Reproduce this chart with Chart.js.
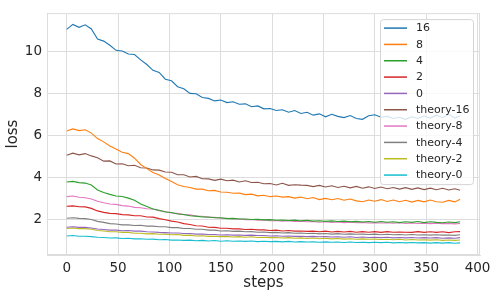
<!DOCTYPE html>
<html>
<head>
<meta charset="utf-8">
<script src="https://cdn.jsdelivr.net/npm/chart.js@4"></script>
<style>
  html, body { margin: 0; padding: 0; background: #fff; }
  #wrap { width: 498px; height: 299px; }
</style>
</head>
<body>
<div id="wrap"><canvas id="myChart" width="498" height="299"></canvas></div>
<script>
const steps = [0, 6, 12, 18, 24, 30, 36, 42, 48, 54, 60, 66, 72, 78, 84, 90, 96, 102, 108, 114,
  120, 126, 132, 138, 144, 150, 156, 162, 168, 174, 180, 186, 192, 198, 204, 210, 216, 222, 228, 234,
  240, 246, 252, 258, 264, 270, 276, 282, 288, 294, 300, 306, 312, 318, 324, 330, 336, 342, 348, 354,
  360, 366, 372, 378, 383];

const loss16 = [11.08, 11.32, 11.18, 11.30, 11.10, 10.62, 10.52, 10.32, 10.08, 10.05, 9.90, 9.88, 9.62, 9.40, 9.12, 9.02, 8.70, 8.62, 8.34, 8.24,
  8.02, 8.00, 7.82, 7.78, 7.66, 7.70, 7.58, 7.62, 7.50, 7.52, 7.38, 7.42, 7.28, 7.30, 7.20, 7.24, 7.12, 7.20, 7.06, 7.12,
  6.98, 7.04, 6.90, 7.02, 6.92, 6.86, 6.96, 6.82, 6.78, 6.95, 7.00, 6.88, 6.92, 6.82, 6.88, 6.78, 6.90, 6.82, 6.94, 6.84,
  6.98, 6.86, 7.02, 6.84, 6.95];
const loss8 = [6.22, 6.32, 6.24, 6.28, 6.12, 5.86, 5.70, 5.50, 5.36, 5.20, 5.14, 4.92, 4.62, 4.42, 4.24, 4.12, 3.95, 3.80, 3.65, 3.57,
  3.52, 3.44, 3.44, 3.36, 3.38, 3.30, 3.29, 3.24, 3.25, 3.18, 3.20, 3.12, 3.15, 3.08, 3.11, 3.06, 3.08, 3.01, 3.06, 2.98,
  3.04, 2.94, 3.00, 2.93, 2.99, 2.91, 2.97, 2.88, 2.84, 2.92, 2.86, 2.94, 2.85, 2.92, 2.84, 2.91, 2.82, 2.90, 2.83, 2.92,
  2.84, 2.81, 2.90, 2.83, 2.96];
const loss4 = [3.78, 3.81, 3.75, 3.73, 3.64, 3.40, 3.28, 3.19, 3.11, 3.09, 3.01, 2.91, 2.73, 2.61, 2.49, 2.43, 2.35, 2.32, 2.25, 2.23,
  2.17, 2.15, 2.11, 2.11, 2.07, 2.07, 2.03, 2.04, 2.01, 2.01, 1.99, 2.00, 1.97, 1.98, 1.95, 1.96, 1.94, 1.96, 1.92, 1.95,
  1.91, 1.93, 1.90, 1.92, 1.89, 1.91, 1.88, 1.90, 1.87, 1.89, 1.86, 1.89, 1.86, 1.88, 1.84, 1.88, 1.85, 1.89, 1.84, 1.88,
  1.85, 1.83, 1.87, 1.84, 1.88];
const loss2 = [2.62, 2.64, 2.60, 2.59, 2.52, 2.40, 2.33, 2.28, 2.27, 2.22, 2.21, 2.17, 2.17, 2.11, 2.10, 2.03, 1.98, 1.91, 1.87, 1.79,
  1.75, 1.69, 1.68, 1.62, 1.61, 1.57, 1.57, 1.54, 1.54, 1.51, 1.52, 1.49, 1.49, 1.46, 1.48, 1.44, 1.46, 1.43, 1.44, 1.42,
  1.43, 1.40, 1.43, 1.39, 1.42, 1.39, 1.42, 1.38, 1.41, 1.38, 1.41, 1.37, 1.41, 1.38, 1.39, 1.38, 1.37, 1.41, 1.37, 1.40,
  1.37, 1.40, 1.36, 1.40, 1.41];
const loss0 = [1.62, 1.64, 1.61, 1.61, 1.58, 1.53, 1.51, 1.48, 1.48, 1.45, 1.46, 1.43, 1.43, 1.40, 1.39, 1.37, 1.36, 1.34, 1.34, 1.32,
  1.32, 1.29, 1.29, 1.27, 1.27, 1.25, 1.26, 1.24, 1.25, 1.23, 1.24, 1.22, 1.22, 1.20, 1.21, 1.19, 1.20, 1.18, 1.19, 1.17,
  1.18, 1.16, 1.17, 1.15, 1.16, 1.14, 1.16, 1.13, 1.15, 1.13, 1.14, 1.12, 1.14, 1.11, 1.13, 1.11, 1.13, 1.10, 1.12, 1.10,
  1.12, 1.09, 1.11, 1.09, 1.12];
const theory16 = [5.06, 5.16, 5.08, 5.14, 5.03, 4.94, 4.78, 4.79, 4.64, 4.65, 4.56, 4.58, 4.46, 4.45, 4.36, 4.35, 4.26, 4.25, 4.13, 4.13,
  4.02, 4.05, 3.94, 3.93, 3.86, 3.92, 3.84, 3.87, 3.78, 3.84, 3.76, 3.77, 3.70, 3.71, 3.64, 3.72, 3.62, 3.65, 3.63, 3.62,
  3.56, 3.62, 3.54, 3.60, 3.52, 3.58, 3.50, 3.57, 3.48, 3.55, 3.47, 3.54, 3.46, 3.52, 3.44, 3.51, 3.43, 3.50, 3.42, 3.49,
  3.41, 3.48, 3.40, 3.46, 3.39];
const theory8 = [3.08, 3.11, 3.05, 3.03, 2.97, 2.86, 2.79, 2.73, 2.71, 2.65, 2.63, 2.57, 2.55, 2.50, 2.49, 2.41, 2.37, 2.30, 2.28, 2.22,
  2.21, 2.15, 2.14, 2.09, 2.09, 2.05, 2.05, 2.01, 2.01, 1.98, 1.99, 1.95, 1.97, 1.93, 1.94, 1.91, 1.93, 1.89, 1.91, 1.88,
  1.89, 1.86, 1.88, 1.85, 1.87, 1.84, 1.86, 1.83, 1.85, 1.82, 1.84, 1.82, 1.83, 1.81, 1.83, 1.80, 1.82, 1.80, 1.81, 1.79,
  1.81, 1.79, 1.80, 1.78, 1.80];
const theory4 = [2.05, 2.07, 2.04, 2.03, 1.99, 1.90, 1.85, 1.79, 1.77, 1.73, 1.73, 1.70, 1.71, 1.67, 1.67, 1.64, 1.64, 1.60, 1.60, 1.56,
  1.56, 1.52, 1.52, 1.48, 1.48, 1.44, 1.45, 1.42, 1.43, 1.40, 1.41, 1.38, 1.39, 1.36, 1.37, 1.34, 1.36, 1.33, 1.34, 1.32,
  1.33, 1.30, 1.32, 1.29, 1.31, 1.28, 1.30, 1.28, 1.29, 1.27, 1.29, 1.26, 1.28, 1.26, 1.27, 1.25, 1.27, 1.25, 1.26, 1.24,
  1.26, 1.24, 1.25, 1.23, 1.26];
const theory2 = [1.56, 1.58, 1.55, 1.55, 1.52, 1.46, 1.44, 1.40, 1.40, 1.37, 1.37, 1.33, 1.33, 1.30, 1.31, 1.28, 1.29, 1.26, 1.27, 1.23,
  1.24, 1.20, 1.21, 1.18, 1.19, 1.17, 1.18, 1.15, 1.17, 1.14, 1.16, 1.13, 1.14, 1.12, 1.13, 1.10, 1.12, 1.09, 1.11, 1.08,
  1.10, 1.07, 1.09, 1.06, 1.08, 1.05, 1.07, 1.04, 1.06, 1.04, 1.05, 1.03, 1.04, 1.02, 1.04, 1.01, 1.03, 1.01, 1.02, 1.00,
  1.02, 0.99, 1.01, 0.99, 1.01];
const theory0 = [1.20, 1.22, 1.19, 1.19, 1.17, 1.14, 1.13, 1.10, 1.11, 1.08, 1.09, 1.06, 1.07, 1.04, 1.05, 1.02, 1.03, 1.00, 1.01, 0.99,
  1.00, 0.97, 0.99, 0.96, 0.98, 0.95, 0.97, 0.95, 0.96, 0.94, 0.96, 0.93, 0.95, 0.93, 0.94, 0.92, 0.94, 0.91, 0.93, 0.91,
  0.92, 0.90, 0.92, 0.90, 0.91, 0.89, 0.91, 0.89, 0.90, 0.88, 0.90, 0.88, 0.90, 0.87, 0.89, 0.87, 0.89, 0.87, 0.88, 0.86,
  0.88, 0.86, 0.88, 0.85, 0.87];

const seriesNames = ['16', '8', '4', '2', '0', 'theory-16', 'theory-8', 'theory-4', 'theory-2', 'theory-0'];
const seriesValues = [loss16, loss8, loss4, loss2, loss0, theory16, theory8, theory4, theory2, theory0];
const colors = ['#1f77b4', '#ff7f0e', '#2ca02c', '#d62728', '#9467bd', '#8c564b', '#e377c2', '#7f7f7f', '#bcbd22', '#17becf'];

const xTicks = [0, 50, 100, 150, 200, 250, 300, 350, 400];
const yTicks = [2, 4, 6, 8, 10];

const textColor = '#262626';
const gridColor = '#dddddd';
const fontFamily = '"DejaVu Sans", sans-serif';

// frame on all four sides, like the matplotlib axes box
const framePlugin = {
  id: 'frame',
  beforeDatasetsDraw(chart) {
    const {ctx, chartArea: a} = chart;
    ctx.save();
    ctx.strokeStyle = gridColor;
    ctx.lineWidth = 1;
    ctx.strokeRect(a.left + 0.5, a.top + 0.5, a.right - a.left - 1, a.bottom - a.top - 1);
    ctx.restore();
  }
};

// legend box drawn inside the plot, top right
const insideLegend = {
  id: 'insideLegend',
  afterDraw(chart) {
    const ctx = chart.ctx;
    const a = chart.chartArea;
    const boxW = 93, boxH = 165;
    const bx = a.right - 7 - boxW, by = a.top + 6;
    ctx.save();
    ctx.beginPath();
    ctx.roundRect(bx + 0.5, by + 0.5, boxW, boxH, 3);
    ctx.fillStyle = 'rgba(255,255,255,0.8)';
    ctx.fill();
    ctx.strokeStyle = '#d4d4d4';
    ctx.lineWidth = 1;
    ctx.stroke();
    ctx.font = '11px ' + fontFamily;
    ctx.textBaseline = 'middle';
    ctx.fillStyle = textColor;
    chart.data.datasets.forEach((ds, i) => {
      const y = by + 9 + i * 16.33;
      ctx.beginPath();
      ctx.moveTo(bx + 4, y);
      ctx.lineTo(bx + 27, y);
      ctx.strokeStyle = ds.borderColor;
      ctx.lineWidth = 1.5;
      ctx.stroke();
      ctx.fillText(ds.label, bx + 36, y + 0.5);
    });
    ctx.restore();
  }
};

const datasets = seriesNames.map((name, i) => ({
  label: name,
  data: seriesValues[i].map((v, j) => ({x: steps[j], y: v})),
  borderColor: colors[i],
  backgroundColor: colors[i],
  borderWidth: 1.1,
  pointRadius: 0,
  tension: 0,
  fill: false
}));

const ctx = document.getElementById('myChart').getContext('2d');
const myChart = new Chart(ctx, {
  type: 'line',
  data: {datasets},
  plugins: [framePlugin, insideLegend],
  options: {
    responsive: false,
    animation: false,
    layout: {padding: {left: 0, top: 7, right: 18, bottom: 0}},
    plugins: {
      legend: {display: false},
      tooltip: {enabled: false}
    },
    scales: {
      x: {
        type: 'linear',
        min: -19.2,
        max: 402.4,
        afterBuildTicks: (scale) => { scale.ticks = xTicks.map(v => ({value: v})); },
        afterFit: (scale) => { scale.height = 44; },
        grid: {color: gridColor, drawTicks: false},
        border: {color: gridColor},
        ticks: {color: textColor, font: {family: fontFamily, size: 13.5}, padding: 5, maxRotation: 0},
        title: {display: true, text: 'steps', color: textColor, font: {family: fontFamily, size: 15}, padding: {top: 0, bottom: 7}}
      },
      y: {
        type: 'linear',
        min: 0.29,
        max: 11.86,
        afterBuildTicks: (scale) => { scale.ticks = yTicks.map(v => ({value: v})); },
        afterFit: (scale) => { scale.width = 47; },
        grid: {color: gridColor, drawTicks: false},
        border: {color: gridColor},
        ticks: {color: textColor, font: {family: fontFamily, size: 13.5}, padding: 5},
        title: {display: true, text: 'loss', color: textColor, font: {family: fontFamily, size: 15}, padding: {top: 4, bottom: 0}}
      }
    }
  }
});
</script>
</body>
</html>
